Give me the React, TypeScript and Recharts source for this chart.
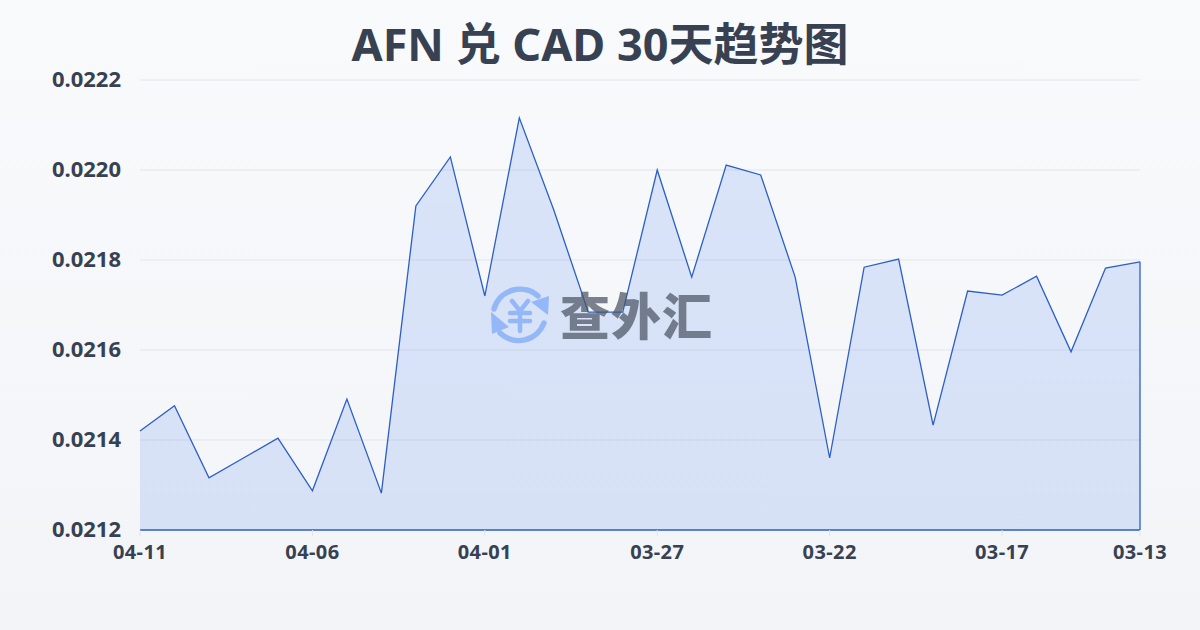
import React from 'react';
import { AreaChart, Area, XAxis, YAxis, CartesianGrid, ReferenceLine } from 'recharts';

const dates = [
  '04-11', '04-10', '04-09', '04-08', '04-07', '04-06', '04-05', '04-04', '04-03', '04-02',
  '04-01', '03-31', '03-30', '03-29', '03-28', '03-27', '03-26', '03-25', '03-24', '03-23',
  '03-22', '03-21', '03-20', '03-19', '03-18', '03-17', '03-16', '03-15', '03-14', '03-13',
];
const rates = [
  0.02142, 0.021476, 0.021316, 0.02136, 0.021404, 0.021287, 0.021491, 0.021282, 0.02192, 0.022029,
  0.02172, 0.022116, 0.021911, 0.021684, 0.021684, 0.022, 0.021762, 0.022011, 0.021989, 0.021762,
  0.02136, 0.021784, 0.021802, 0.021433, 0.021731, 0.021722, 0.021764, 0.021596, 0.021782, 0.021796,
];
const xTicks = ['04-11', '04-06', '04-01', '03-27', '03-22', '03-17', '03-13'];
const yTicks = [0.0212, 0.0214, 0.0216, 0.0218, 0.022, 0.0222];

const chartData = dates.map((date, i) => ({ date, rate: rates[i] }));

const FONT = '"Noto Sans", "Noto Sans CJK SC", sans-serif';
const LINE = '#2b5fc7';

function Watermark() {
  return (
    <div style={{ position: 'absolute', left: 488, top: 283, width: 240, height: 64 }}>
      <svg width={64} height={64} viewBox="0 0 64 64" style={{ position: 'absolute', left: 0, top: 0, opacity: 0.9 }}>
        <g fill="none" stroke="#8db4f7" strokeWidth={5.5} strokeLinecap="round">
          <path d="M6 26 A27 27 0 0 1 50 13" />
          <path d="M56 40 A27 27 0 0 1 12 50" />
          <path d="M24 18 L32 28 L40 18 M22 30 H42 M22 38 H42 M32 28 V48" strokeWidth={4.5} />
        </g>
        <path d="M43 19 L61 13 L60 32 Z" fill="#8db4f7" />
        <path d="M3 29 L21 44 L4 51 Z" fill="#8db4f7" />
      </svg>
      <div
        style={{
          position: 'absolute',
          left: 72,
          top: -5,
          fontFamily: '"Noto Sans CJK SC", sans-serif',
          fontWeight: 900,
          fontSize: 50,
          lineHeight: '70px',
          letterSpacing: 1,
          color: '#4b5563',
          opacity: 0.72,
          whiteSpace: 'nowrap',
        }}
      >
        查外汇
      </div>
    </div>
  );
}

export default function App() {
  return (
    <div
      style={{
        position: 'absolute',
        left: 0,
        top: 0,
        width: 1200,
        height: 630,
        overflow: 'hidden',
        background: 'linear-gradient(180deg, #f8fafc 0%, #f2f4f7 100%)',
        fontFamily: FONT,
      }}
    >
      <div
        style={{
          position: 'absolute',
          left: 0,
          right: 0,
          top: 12,
          textAlign: 'center',
          fontSize: 45,
          fontWeight: 700,
          lineHeight: '64px',
          color: '#374151',
        }}
      >
        AFN 兑 CAD 30天趋势图
      </div>
      <AreaChart
        width={1200}
        height={630}
        data={chartData}
        margin={{ top: 80, right: 60, bottom: 70, left: 0 }}
      >
        <defs>
          <linearGradient id="rateFill" x1="0" y1="0" x2="0" y2="1">
            <stop offset="0%" stopColor="#2563eb" stopOpacity={0.14} />
            <stop offset="100%" stopColor="#2563eb" stopOpacity={0.135} />
          </linearGradient>
        </defs>
        <CartesianGrid vertical={false} stroke="#e2e5ea" />
        <XAxis
          dataKey="date"
          ticks={xTicks}
          interval={0}
          axisLine={{ stroke: LINE, strokeWidth: 1.3 }}
          tickLine={{ stroke: '#e2e5ea' }}
          tickSize={6}
          tickMargin={9}
          tick={{ fontSize: 20, fontWeight: 700, fill: '#374151', fontFamily: FONT, letterSpacing: 0.4 }}
        />
        <YAxis
          width={140}
          domain={[0.0212, 0.0222]}
          ticks={yTicks}
          axisLine={false}
          tickLine={false}
          tickMargin={13}
          tickFormatter={(v: number) => v.toFixed(4)}
          tick={{ fontSize: 22, fontWeight: 700, fill: '#374151', fontFamily: FONT, dy: -1 }}
        />
        <Area
          type="linear"
          dataKey="rate"
          stroke={LINE}
          strokeWidth={1.3}
          fill="url(#rateFill)"
          fillOpacity={1}
          dot={false}
          activeDot={false}
          isAnimationActive={false}
        />
        <ReferenceLine stroke={LINE} strokeWidth={1.3} segment={[{ x: '04-11', y: 0.0212 }, { x: '04-11', y: rates[0] }]} />
        <ReferenceLine stroke={LINE} strokeWidth={1.3} segment={[{ x: '03-13', y: 0.0212 }, { x: '03-13', y: rates[29] }]} />
      </AreaChart>
      <Watermark />
    </div>
  );
}
